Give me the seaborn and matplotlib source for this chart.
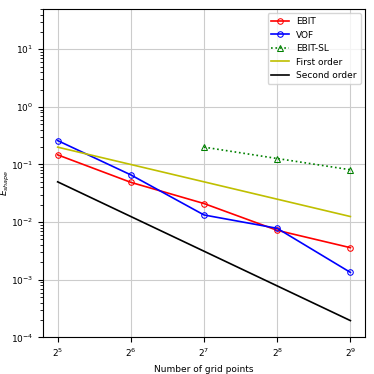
import numpy as np
import matplotlib
matplotlib.use("Agg")
import matplotlib.pyplot as plt
import seaborn as sns

grid_points = [32, 64, 128, 256, 512]
ebit = [0.147, 0.049, 0.021, 0.0072, 0.0036]
vof = [0.26, 0.066, 0.0133, 0.0078, 0.00134]
ebit_sl_points = [128, 256, 512]
ebit_sl = [0.2, 0.127, 0.081]
first_order = [0.2, 0.1, 0.05, 0.025, 0.0125]
second_order = [0.05, 0.0125, 0.003125, 0.00078125, 0.0001953]

plt.rcParams['font.size'] = 6.5
fig, ax = plt.subplots(figsize=(3.74, 3.74), dpi=100)

sns.lineplot(x=grid_points, y=ebit, ax=ax, color='r', marker='o', mfc='none',
             mec='r', markersize=4, linewidth=1.2, label='EBIT')
sns.lineplot(x=grid_points, y=vof, ax=ax, color='b', marker='o', mfc='none',
             mec='b', markersize=4, linewidth=1.2, label='VOF')
sns.lineplot(x=ebit_sl_points, y=ebit_sl, ax=ax, color='g', marker='^',
             mfc='none', mec='g', markersize=4, linewidth=1.2, linestyle=':',
             label='EBIT-SL')
sns.lineplot(x=grid_points, y=first_order, ax=ax, color='y', linewidth=1.2,
             label='First order')
sns.lineplot(x=grid_points, y=second_order, ax=ax, color='k', linewidth=1.2,
             label='Second order')

ax.set_xscale('log', base=2)
ax.set_yscale('log')
ax.set_ylim(1e-4, 50)
ax.set_xticks(grid_points)
ax.minorticks_off()
ax.yaxis.set_minor_locator(matplotlib.ticker.LogLocator(base=10, subs=np.arange(2, 10)))
ax.yaxis.set_minor_formatter(matplotlib.ticker.NullFormatter())
ax.grid(True, color='#cccccc', linewidth=0.8)
ax.set_axisbelow(True)
ax.set_xlabel("Number of grid points")
ax.set_ylabel("$E_{shape}$")
ax.yaxis.set_label_coords(-0.097, 0.47)
ax.legend(loc='upper right', fontsize=6.5)

fig.subplots_adjust(left=0.115, right=0.976, top=0.976, bottom=0.098)
fig.savefig("out.png", dpi=100)
